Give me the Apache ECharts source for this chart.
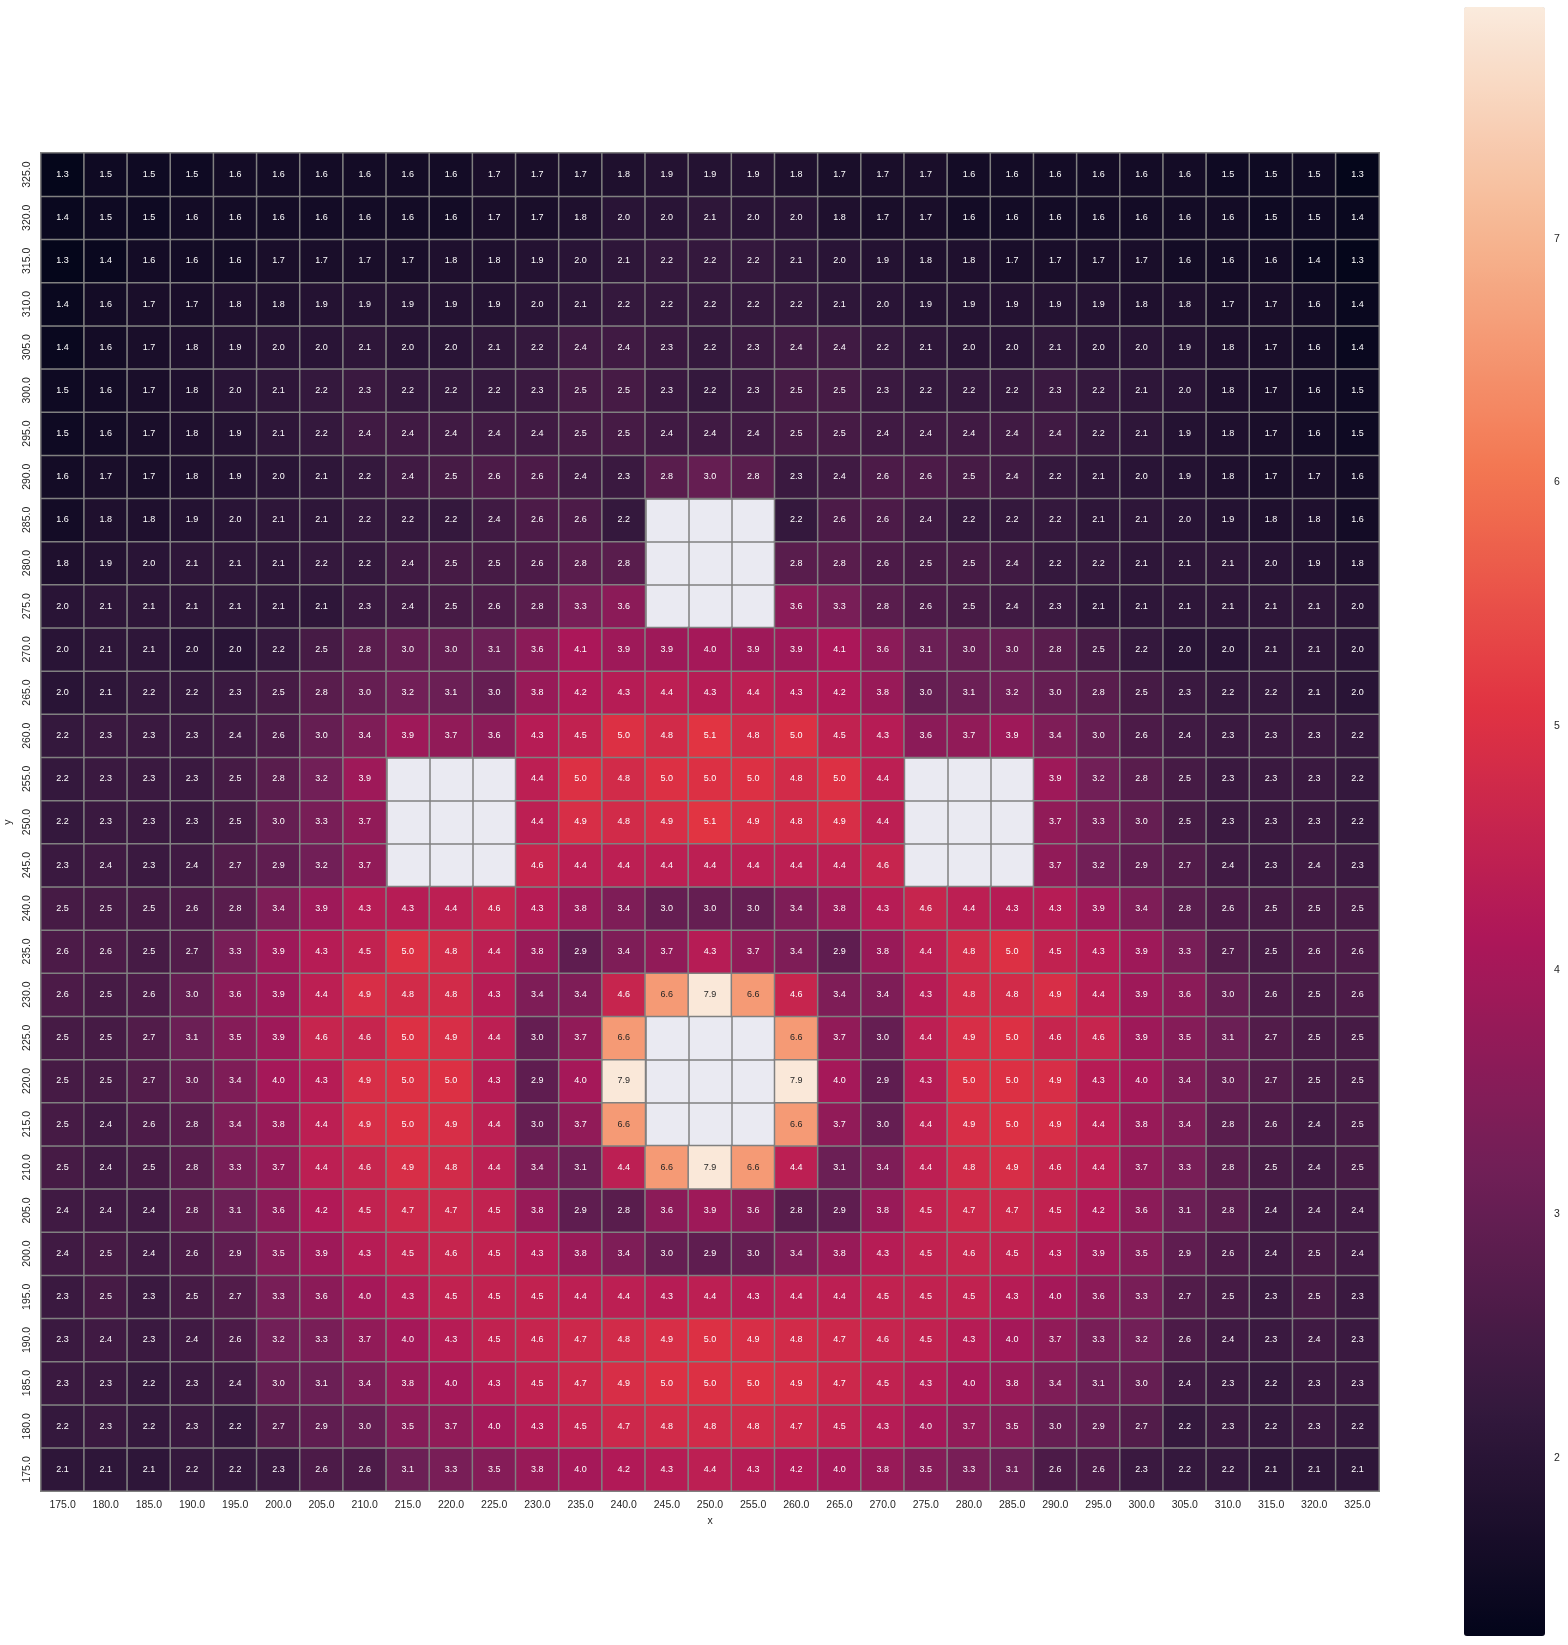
<!DOCTYPE html>
<html>
<head>
<meta charset="utf-8">
<script src="https://cdn.jsdelivr.net/npm/echarts@6/dist/echarts.min.js"></script>
<style>
html,body{margin:0;padding:0;background:#fff;}
#chart{width:1568px;height:1645px;}
</style>
</head>
<body>
<div id="chart"></div>
<script>
// x categories (left to right) and y categories (bottom to top)
const xLabels = ['175.0','180.0','185.0','190.0','195.0','200.0','205.0','210.0','215.0','220.0','225.0','230.0','235.0','240.0','245.0','250.0','255.0','260.0','265.0','270.0','275.0','280.0','285.0','290.0','295.0','300.0','305.0','310.0','315.0','320.0','325.0'];
const yLabels = ['175.0','180.0','185.0','190.0','195.0','200.0','205.0','210.0','215.0','220.0','225.0','230.0','235.0','240.0','245.0','250.0','255.0','260.0','265.0','270.0','275.0','280.0','285.0','290.0','295.0','300.0','305.0','310.0','315.0','320.0','325.0'];

// rows of cell values, one array per y value (null = empty cell)
const r325 = [1.3,1.5,1.5,1.5,1.6,1.6,1.6,1.6,1.6,1.6,1.7,1.7,1.7,1.8,1.9,1.9,1.9,1.8,1.7,1.7,1.7,1.6,1.6,1.6,1.6,1.6,1.6,1.5,1.5,1.5,1.3];
const r320 = [1.4,1.5,1.5,1.6,1.6,1.6,1.6,1.6,1.6,1.6,1.7,1.7,1.8,2.0,2.0,2.1,2.0,2.0,1.8,1.7,1.7,1.6,1.6,1.6,1.6,1.6,1.6,1.6,1.5,1.5,1.4];
const r315 = [1.3,1.4,1.6,1.6,1.6,1.7,1.7,1.7,1.7,1.8,1.8,1.9,2.0,2.1,2.2,2.2,2.2,2.1,2.0,1.9,1.8,1.8,1.7,1.7,1.7,1.7,1.6,1.6,1.6,1.4,1.3];
const r310 = [1.4,1.6,1.7,1.7,1.8,1.8,1.9,1.9,1.9,1.9,1.9,2.0,2.1,2.2,2.2,2.2,2.2,2.2,2.1,2.0,1.9,1.9,1.9,1.9,1.9,1.8,1.8,1.7,1.7,1.6,1.4];
const r305 = [1.4,1.6,1.7,1.8,1.9,2.0,2.0,2.1,2.0,2.0,2.1,2.2,2.4,2.4,2.3,2.2,2.3,2.4,2.4,2.2,2.1,2.0,2.0,2.1,2.0,2.0,1.9,1.8,1.7,1.6,1.4];
const r300 = [1.5,1.6,1.7,1.8,2.0,2.1,2.2,2.3,2.2,2.2,2.2,2.3,2.5,2.5,2.3,2.2,2.3,2.5,2.5,2.3,2.2,2.2,2.2,2.3,2.2,2.1,2.0,1.8,1.7,1.6,1.5];
const r295 = [1.5,1.6,1.7,1.8,1.9,2.1,2.2,2.4,2.4,2.4,2.4,2.4,2.5,2.5,2.4,2.4,2.4,2.5,2.5,2.4,2.4,2.4,2.4,2.4,2.2,2.1,1.9,1.8,1.7,1.6,1.5];
const r290 = [1.6,1.7,1.7,1.8,1.9,2.0,2.1,2.2,2.4,2.5,2.6,2.6,2.4,2.3,2.8,3.0,2.8,2.3,2.4,2.6,2.6,2.5,2.4,2.2,2.1,2.0,1.9,1.8,1.7,1.7,1.6];
const r285 = [1.6,1.8,1.8,1.9,2.0,2.1,2.1,2.2,2.2,2.2,2.4,2.6,2.6,2.2,null,null,null,2.2,2.6,2.6,2.4,2.2,2.2,2.2,2.1,2.1,2.0,1.9,1.8,1.8,1.6];
const r280 = [1.8,1.9,2.0,2.1,2.1,2.1,2.2,2.2,2.4,2.5,2.5,2.6,2.8,2.8,null,null,null,2.8,2.8,2.6,2.5,2.5,2.4,2.2,2.2,2.1,2.1,2.1,2.0,1.9,1.8];
const r275 = [2.0,2.1,2.1,2.1,2.1,2.1,2.1,2.3,2.4,2.5,2.6,2.8,3.3,3.6,null,null,null,3.6,3.3,2.8,2.6,2.5,2.4,2.3,2.1,2.1,2.1,2.1,2.1,2.1,2.0];
const r270 = [2.0,2.1,2.1,2.0,2.0,2.2,2.5,2.8,3.0,3.0,3.1,3.6,4.1,3.9,3.9,4.0,3.9,3.9,4.1,3.6,3.1,3.0,3.0,2.8,2.5,2.2,2.0,2.0,2.1,2.1,2.0];
const r265 = [2.0,2.1,2.2,2.2,2.3,2.5,2.8,3.0,3.2,3.1,3.0,3.8,4.2,4.3,4.4,4.3,4.4,4.3,4.2,3.8,3.0,3.1,3.2,3.0,2.8,2.5,2.3,2.2,2.2,2.1,2.0];
const r260 = [2.2,2.3,2.3,2.3,2.4,2.6,3.0,3.4,3.9,3.7,3.6,4.3,4.5,5.0,4.8,5.1,4.8,5.0,4.5,4.3,3.6,3.7,3.9,3.4,3.0,2.6,2.4,2.3,2.3,2.3,2.2];
const r255 = [2.2,2.3,2.3,2.3,2.5,2.8,3.2,3.9,null,null,null,4.4,5.0,4.8,5.0,5.0,5.0,4.8,5.0,4.4,null,null,null,3.9,3.2,2.8,2.5,2.3,2.3,2.3,2.2];
const r250 = [2.2,2.3,2.3,2.3,2.5,3.0,3.3,3.7,null,null,null,4.4,4.9,4.8,4.9,5.1,4.9,4.8,4.9,4.4,null,null,null,3.7,3.3,3.0,2.5,2.3,2.3,2.3,2.2];
const r245 = [2.3,2.4,2.3,2.4,2.7,2.9,3.2,3.7,null,null,null,4.6,4.4,4.4,4.4,4.4,4.4,4.4,4.4,4.6,null,null,null,3.7,3.2,2.9,2.7,2.4,2.3,2.4,2.3];
const r240 = [2.5,2.5,2.5,2.6,2.8,3.4,3.9,4.3,4.3,4.4,4.6,4.3,3.8,3.4,3.0,3.0,3.0,3.4,3.8,4.3,4.6,4.4,4.3,4.3,3.9,3.4,2.8,2.6,2.5,2.5,2.5];
const r235 = [2.6,2.6,2.5,2.7,3.3,3.9,4.3,4.5,5.0,4.8,4.4,3.8,2.9,3.4,3.7,4.3,3.7,3.4,2.9,3.8,4.4,4.8,5.0,4.5,4.3,3.9,3.3,2.7,2.5,2.6,2.6];
const r230 = [2.6,2.5,2.6,3.0,3.6,3.9,4.4,4.9,4.8,4.8,4.3,3.4,3.4,4.6,6.6,7.9,6.6,4.6,3.4,3.4,4.3,4.8,4.8,4.9,4.4,3.9,3.6,3.0,2.6,2.5,2.6];
const r225 = [2.5,2.5,2.7,3.1,3.5,3.9,4.6,4.6,5.0,4.9,4.4,3.0,3.7,6.6,null,null,null,6.6,3.7,3.0,4.4,4.9,5.0,4.6,4.6,3.9,3.5,3.1,2.7,2.5,2.5];
const r220 = [2.5,2.5,2.7,3.0,3.4,4.0,4.3,4.9,5.0,5.0,4.3,2.9,4.0,7.9,null,null,null,7.9,4.0,2.9,4.3,5.0,5.0,4.9,4.3,4.0,3.4,3.0,2.7,2.5,2.5];
const r215 = [2.5,2.4,2.6,2.8,3.4,3.8,4.4,4.9,5.0,4.9,4.4,3.0,3.7,6.6,null,null,null,6.6,3.7,3.0,4.4,4.9,5.0,4.9,4.4,3.8,3.4,2.8,2.6,2.4,2.5];
const r210 = [2.5,2.4,2.5,2.8,3.3,3.7,4.4,4.6,4.9,4.8,4.4,3.4,3.1,4.4,6.6,7.9,6.6,4.4,3.1,3.4,4.4,4.8,4.9,4.6,4.4,3.7,3.3,2.8,2.5,2.4,2.5];
const r205 = [2.4,2.4,2.4,2.8,3.1,3.6,4.2,4.5,4.7,4.7,4.5,3.8,2.9,2.8,3.6,3.9,3.6,2.8,2.9,3.8,4.5,4.7,4.7,4.5,4.2,3.6,3.1,2.8,2.4,2.4,2.4];
const r200 = [2.4,2.5,2.4,2.6,2.9,3.5,3.9,4.3,4.5,4.6,4.5,4.3,3.8,3.4,3.0,2.9,3.0,3.4,3.8,4.3,4.5,4.6,4.5,4.3,3.9,3.5,2.9,2.6,2.4,2.5,2.4];
const r195 = [2.3,2.5,2.3,2.5,2.7,3.3,3.6,4.0,4.3,4.5,4.5,4.5,4.4,4.4,4.3,4.4,4.3,4.4,4.4,4.5,4.5,4.5,4.3,4.0,3.6,3.3,2.7,2.5,2.3,2.5,2.3];
const r190 = [2.3,2.4,2.3,2.4,2.6,3.2,3.3,3.7,4.0,4.3,4.5,4.6,4.7,4.8,4.9,5.0,4.9,4.8,4.7,4.6,4.5,4.3,4.0,3.7,3.3,3.2,2.6,2.4,2.3,2.4,2.3];
const r185 = [2.3,2.3,2.2,2.3,2.4,3.0,3.1,3.4,3.8,4.0,4.3,4.5,4.7,4.9,5.0,5.0,5.0,4.9,4.7,4.5,4.3,4.0,3.8,3.4,3.1,3.0,2.4,2.3,2.2,2.3,2.3];
const r180 = [2.2,2.3,2.2,2.3,2.2,2.7,2.9,3.0,3.5,3.7,4.0,4.3,4.5,4.7,4.8,4.8,4.8,4.7,4.5,4.3,4.0,3.7,3.5,3.0,2.9,2.7,2.2,2.3,2.2,2.3,2.2];
const r175 = [2.1,2.1,2.1,2.2,2.2,2.3,2.6,2.6,3.1,3.3,3.5,3.8,4.0,4.2,4.3,4.4,4.3,4.2,4.0,3.8,3.5,3.3,3.1,2.6,2.6,2.3,2.2,2.2,2.1,2.1,2.1];

// bottom-to-top order to match yLabels
const rowsBottomUp = [r175,r180,r185,r190,r195,r200,r205,r210,r215,r220,r225,r230,r235,r240,r245,r250,r255,r260,r265,r270,r275,r280,r285,r290,r295,r300,r305,r310,r315,r320,r325];

// colour scale range and colorbar ticks
const colorMin = 1.27, colorMax = 7.95;
const cbarTicks = [2,3,4,5,6,7];
const rocket = ['#03051a','#35193e','#701f57','#ad1759','#e13342','#f37651','#f6b48f','#faebdd'];

const data = [];
rowsBottomUp.forEach((row, yi) => {
  row.forEach((v, xi) => {
    if (v === null) return;
    data.push({value: [xi, yi, v], label: {color: v > 6 ? '#262626' : '#ffffff'}});
  });
});

const FONT = "'Liberation Sans', Arial, sans-serif";
const TXT = '#262626';
const chart = echarts.init(document.getElementById('chart'), null, {renderer: 'canvas'});
chart.setOption({
  animation: false,
  backgroundColor: '#ffffff',
  textStyle: {fontFamily: FONT},
  grid: [
    {left: 41, top: 153, width: 1338, height: 1338, show: true, backgroundColor: '#eaeaf2', borderWidth: 0, containLabel: false, outerBoundsMode: 'none'},
    {left: 1464, top: 7, width: 81, height: 1629, show: false, containLabel: false, outerBoundsMode: 'none'}
  ],
  xAxis: [
    {
      type: 'category', gridIndex: 0, data: xLabels, position: 'bottom',
      name: 'x', nameLocation: 'middle', nameGap: 23,
      nameTextStyle: {color: TXT, fontSize: 10.5, fontFamily: FONT},
      axisLine: {show: false}, axisTick: {show: false},
      axisLabel: {interval: 0, color: TXT, fontSize: 10.5, margin: 9, fontFamily: FONT},
      splitLine: {show: true, interval: 0, lineStyle: {color: '#808080', width: 1.5}}
    },
    {type: 'value', gridIndex: 1, show: false, min: 0, max: 1}
  ],
  yAxis: [
    {
      type: 'category', gridIndex: 0, data: yLabels,
      name: 'y', nameLocation: 'middle', nameGap: 24,
      nameTextStyle: {color: TXT, fontSize: 10.5, fontFamily: FONT},
      axisLine: {show: false}, axisTick: {show: false},
      axisLabel: {interval: 0, rotate: 90, color: TXT, fontSize: 10.5, margin: 8, fontFamily: FONT},
      splitLine: {show: true, interval: 0, lineStyle: {color: '#808080', width: 1.5}}
    },
    {
      type: 'value', gridIndex: 1, position: 'right', min: colorMin, max: colorMax,
      axisLine: {show: false}, splitLine: {show: false},
      axisTick: {show: true, customValues: cbarTicks, length: 5, lineStyle: {color: TXT, width: 1}},
      axisLabel: {customValues: cbarTicks, color: TXT, fontSize: 10.5, margin: 9, fontFamily: FONT}
    }
  ],
  visualMap: {
    type: 'continuous', min: colorMin, max: colorMax, calculable: false,
    seriesIndex: 0, dimension: 2,
    orient: 'vertical', left: 1464, top: 7, itemWidth: 81, itemHeight: 1629,
    padding: 0, text: ['', ''], showLabel: false, hoverLink: false,
    inRange: {color: rocket}
  },
  series: [{
    type: 'heatmap', xAxisIndex: 0, yAxisIndex: 0, data: data,
    itemStyle: {borderColor: '#808080', borderWidth: 1.5},
    label: {show: true, fontSize: 9, fontFamily: FONT, formatter: p => p.value[2].toFixed(1)},
    emphasis: {disabled: true}
  }]
});
</script>
</body>
</html>
